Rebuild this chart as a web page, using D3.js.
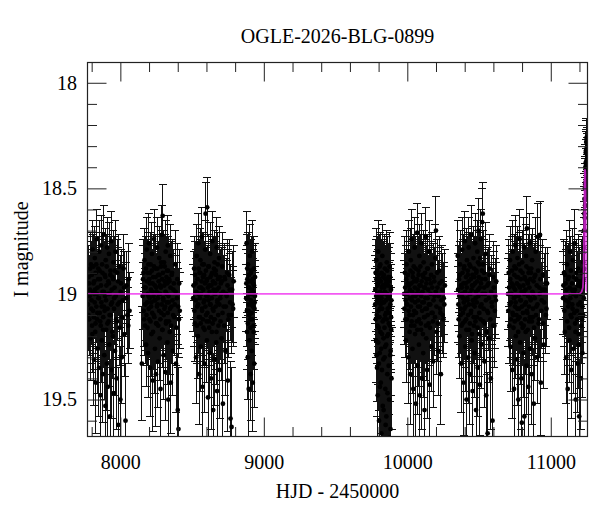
<!DOCTYPE html>
<html>
<head>
<meta charset="utf-8">
<script src="https://cdn.jsdelivr.net/npm/d3@7"></script>
<style>
  html, body { margin: 0; padding: 0; background: #fff; }
  svg { display: block; }
  svg text { font-family: "Liberation Serif", "Times New Roman", serif !important; font-size: 20px; }
</style>
</head>
<body>
<svg id="chart" width="600" height="512"></svg>
<script>
// ---------------- DATA (HJD-2450000, I mag, error) ----------------
const title = "OGLE-2026-BLG-0899";
const xLabel = "HJD - 2450000";
const yLabel = "I magnitude";
const xMajorTicks = [8000, 9000, 10000, 11000];
const yMajorTicks = [18, 18.5, 19, 19.5];

const season1 = [
[7774,19.05,.17],[7779,18.92,.15],[7783,19.12,.17],[7788,18.98,.16],[7792,19.21,.20],[7795,18.86,.15],
[7799,19.03,.16],[7803,19.15,.18],[7806,18.79,.14],[7810,19.08,.17],[7813,18.95,.16],[7816,19.31,.22],
[7819,19.00,.16],[7822,18.83,.15],[7825,19.18,.18],[7828,18.90,.16],[7830,19.42,.24],[7833,19.06,.17],
[7836,18.74,.14],[7838,19.12,.18],[7841,18.97,.16],[7843,19.26,.21],[7846,18.88,.15],[7848,19.02,.17],
[7851,19.35,.23],[7853,18.80,.15],[7856,19.09,.17],[7858,18.93,.16],[7861,19.48,.25],[7863,19.15,.18],
[7866,18.77,.14],[7868,19.04,.17],[7871,19.22,.20],[7873,18.86,.15],[7876,18.99,.16],[7878,19.38,.23],
[7881,19.11,.18],[7883,18.72,.14],[7886,19.06,.17],[7888,19.29,.21],[7891,18.91,.16],[7893,19.01,.16],
[7896,19.53,.26],[7898,18.84,.15],[7901,19.17,.18],[7903,18.96,.16],[7906,19.33,.22],[7908,18.78,.14],
[7911,19.07,.17],[7913,19.44,.24],[7916,18.94,.16],[7918,19.13,.18],[7921,18.81,.15],[7923,19.24,.20],
[7926,19.00,.16],[7928,19.58,.27],[7931,18.89,.16],[7934,19.10,.17],[7936,18.75,.14],[7939,19.36,.23],
[7942,19.04,.17],[7945,18.92,.16],[7948,19.20,.20],[7951,18.85,.15],[7954,19.47,.25],[7957,19.02,.16],
[7960,18.97,.16],[7963,19.27,.21],[7966,18.80,.15],[7970,19.12,.18],[7974,19.40,.24],[7978,18.90,.16],
[7982,19.05,.17],[7986,19.62,.27],[7990,18.87,.15],[7995,19.16,.18],[8000,19.50,.25],[8005,18.95,.16],
[8010,19.30,.22],[8016,19.03,.17],[8022,18.88,.16],[8029,19.19,.20],[8036,19.60,.27],[8043,18.96,.16],
[8050,19.10,.18],[8057,18.93,.17],[8064,19.08,.18],
[7777,19.10,.17],[7781,18.95,.16],[7786,19.01,.16],[7790,18.88,.15],[7797,19.07,.17],[7801,18.91,.16],
[7805,19.19,.18],[7808,18.99,.16],[7812,18.87,.15],[7815,19.11,.17],[7818,18.94,.16],[7821,19.04,.17],
[7824,18.98,.16],[7827,19.14,.18],[7832,18.86,.15],[7835,19.00,.16],[7840,19.09,.17],[7845,18.93,.16],
[7850,19.02,.16],[7855,18.89,.16],[7860,19.13,.18],[7865,18.96,.16],[7870,19.06,.17],[7875,18.90,.16],
[7880,19.17,.18],[7885,18.99,.16],[7890,19.08,.17],[7895,18.92,.16],[7900,19.03,.17],[7905,18.87,.15],
[7910,19.14,.18],[7915,19.00,.16],[7920,18.95,.16],[7925,19.10,.17],[7930,18.91,.16],[7935,19.05,.17],
[7940,18.98,.16],[7944,19.18,.20],[7950,18.93,.16],[7956,19.07,.17],[7962,18.89,.16],[7968,19.01,.17],
[7976,19.13,.18],[7984,18.94,.16],[7993,19.04,.17],[8002,18.99,.17],[8013,19.11,.18],[8026,18.97,.17],
[8040,19.02,.17],[8055,19.15,.18]
];
const season2 = [
[8150,19.33,.27],[8158,18.93,.16],[8163,19.08,.17],[8168,18.84,.15],[8172,19.15,.18],[8176,18.97,.16],
[8180,19.24,.20],[8184,18.79,.15],[8187,19.04,.17],[8190,18.90,.16],[8193,19.28,.21],[8196,19.01,.16],
[8199,18.76,.14],[8202,19.12,.18],[8205,18.95,.16],[8208,19.35,.23],[8211,18.86,.15],[8214,19.06,.17],
[8217,19.19,.20],[8220,18.81,.15],[8223,18.99,.16],[8226,19.41,.24],[8229,18.92,.16],[8232,19.10,.18],
[8235,18.74,.14],[8238,19.03,.17],[8241,19.26,.21],[8244,18.88,.16],[8248,19.38,.25],[8250,18.97,.16],
[8253,19.14,.18],[8256,18.78,.14],[8259,19.05,.17],[8262,19.32,.22],[8265,18.91,.16],[8268,19.00,.16],
[8271,18.83,.15],[8274,19.21,.20],[8277,18.96,.16],[8280,19.45,.25],[8283,18.87,.15],[8286,19.09,.17],
[8289,18.72,.14],[8292,19.17,.18],[8295,18.63,.15],[8298,19.02,.17],[8301,19.29,.21],[8304,18.85,.15],
[8307,19.07,.17],[8310,18.94,.16],[8313,19.37,.23],[8316,18.80,.15],[8319,19.13,.18],[8322,19.00,.16],
[8325,18.89,.16],[8328,19.23,.20],[8331,18.77,.14],[8334,19.50,.26],[8337,19.04,.17],[8340,18.93,.16],
[8344,19.18,.20],[8348,18.82,.15],[8352,19.42,.24],[8356,19.06,.17],[8360,18.90,.16],[8365,19.27,.21],
[8370,18.98,.16],[8376,19.11,.18],[8382,18.86,.16],[8388,19.33,.23],[8394,19.02,.17],[8400,19.55,.27],
[8405,19.64,.29],[8410,18.95,.16],[8414,19.08,.18],
[8155,19.01,.16],[8161,18.90,.16],[8166,19.12,.17],[8170,18.97,.16],[8174,19.05,.17],[8178,18.88,.15],
[8182,19.10,.17],[8186,18.94,.16],[8189,19.16,.18],[8192,19.00,.16],[8195,18.86,.15],[8198,19.07,.17],
[8201,18.93,.16],[8204,19.02,.16],[8207,18.90,.16],[8210,19.13,.18],[8213,18.98,.16],[8216,19.04,.17],
[8219,18.89,.16],[8222,19.09,.17],[8225,18.95,.16],[8228,19.18,.18],[8231,19.01,.16],[8234,18.87,.15],
[8237,19.11,.17],[8240,18.96,.16],[8243,19.03,.17],[8246,18.92,.16],[8249,19.14,.18],[8252,18.99,.16],
[8255,19.06,.17],[8258,18.88,.15],[8261,19.02,.16],[8264,19.15,.18],[8267,18.94,.16],[8270,19.08,.17],
[8273,18.91,.16],[8276,19.00,.16],[8279,19.12,.17],[8282,18.97,.16],[8285,18.85,.15],[8288,19.05,.17],
[8291,18.93,.16],[8294,19.17,.18],[8297,18.90,.16],[8300,19.03,.17],[8303,19.10,.17],[8306,18.96,.16],
[8309,18.87,.15],[8312,19.06,.17],[8315,18.99,.16],[8318,19.14,.18],[8321,18.92,.16],[8324,19.04,.17],
[8327,18.95,.16],[8330,19.09,.17],[8333,18.89,.16],[8336,19.01,.16],[8339,19.13,.18],[8342,18.94,.16],
[8346,19.07,.17],[8350,18.97,.16],[8354,19.15,.18],[8358,18.91,.16],[8363,19.03,.17],[8368,19.10,.18],
[8373,18.95,.16],[8379,19.05,.17],[8385,18.99,.17],[8391,19.16,.18],[8397,18.93,.17],[8403,19.06,.18],
[8408,19.12,.18]
];
const season3 = [
[8508,19.02,.16],[8514,18.88,.15],[8519,19.14,.18],[8524,18.95,.16],[8528,19.30,.22],[8532,18.82,.15],
[8536,19.06,.17],[8540,19.20,.20],[8543,18.76,.14],[8546,19.00,.16],[8549,19.38,.24],[8552,18.90,.16],
[8555,19.11,.18],[8558,18.84,.15],[8561,19.25,.21],[8564,18.97,.16],[8567,18.73,.14],[8570,19.08,.17],
[8573,19.44,.25],[8576,18.92,.16],[8579,19.16,.18],[8582,18.86,.15],[8585,19.03,.17],[8588,19.33,.23],
[8591,18.79,.14],[8594,18.62,.15],[8597,19.10,.17],[8600,18.94,.16],[8603,19.22,.20],[8605,18.59,.14],
[8608,19.01,.17],[8611,19.49,.26],[8614,18.87,.15],[8617,19.13,.18],[8620,18.96,.16],[8623,19.28,.21],
[8626,18.81,.15],[8629,19.05,.17],[8632,19.40,.24],[8635,18.91,.16],[8638,19.18,.20],[8641,18.75,.14],
[8644,19.07,.17],[8647,19.55,.27],[8650,18.98,.16],[8653,19.12,.18],[8656,18.85,.15],[8659,19.31,.22],
[8662,19.00,.16],[8665,18.89,.16],[8668,19.23,.20],[8671,18.78,.14],[8674,19.46,.25],[8677,19.04,.17],
[8680,18.93,.16],[8684,19.15,.18],[8688,18.83,.15],[8692,19.36,.23],[8696,19.02,.17],[8700,18.95,.16],
[8705,19.21,.20],[8710,18.87,.16],[8715,19.52,.26],[8720,19.06,.17],[8726,18.92,.16],[8732,19.27,.21],
[8738,19.00,.17],[8744,18.90,.16],[8750,19.41,.24],[8756,19.10,.18],[8762,18.98,.17],[8768,19.59,.27],
[8775,19.63,.28],[8782,19.05,.18],[8790,18.94,.17],
[8510,18.96,.16],[8516,19.08,.17],[8521,18.91,.16],[8526,19.03,.17],[8530,18.99,.16],[8534,19.15,.18],
[8538,18.93,.16],[8542,19.05,.17],[8545,18.88,.15],[8548,19.11,.17],[8551,18.97,.16],[8554,19.02,.16],
[8557,18.90,.16],[8560,19.14,.18],[8563,19.00,.16],[8566,18.94,.16],[8569,19.07,.17],[8572,18.86,.15],
[8575,19.12,.17],[8578,18.98,.16],[8581,19.04,.17],[8584,18.91,.16],[8587,19.17,.18],[8590,18.95,.16],
[8593,19.06,.17],[8596,18.89,.16],[8599,19.01,.16],[8602,19.13,.18],[8604,18.93,.16],[8607,19.09,.17],
[8610,18.97,.16],[8613,19.03,.17],[8616,18.87,.15],[8619,19.16,.18],[8622,18.99,.16],[8625,19.05,.17],
[8628,18.92,.16],[8631,19.11,.17],[8634,18.96,.16],[8637,19.02,.16],[8640,18.90,.16],[8643,19.14,.18],
[8646,18.94,.16],[8649,19.08,.17],[8652,18.88,.15],[8655,19.00,.16],[8658,19.12,.17],[8661,18.95,.16],
[8664,19.06,.17],[8667,18.91,.16],[8670,19.18,.18],[8673,18.98,.16],[8676,19.03,.17],[8679,18.86,.15],
[8682,19.10,.17],[8686,18.97,.16],[8690,19.05,.17],[8694,18.92,.16],[8698,19.13,.18],[8702,19.00,.16],
[8707,18.94,.16],[8712,19.09,.17],[8717,18.99,.17],[8723,19.15,.18],[8729,18.93,.16],[8735,19.06,.17],
[8741,19.01,.17],[8747,18.96,.17],[8753,19.12,.18],[8759,18.91,.17],[8765,19.04,.18],[8772,19.10,.18],
[8779,18.98,.18],[8786,19.07,.18]
];
const season4 = [
[8877,19.02,.16],[8880,18.76,.15],[8883,19.18,.18],[8885,18.93,.16],[8888,19.30,.20],[8890,18.86,.15],
[8893,19.08,.17],[8895,19.45,.23],[8898,18.97,.16],[8900,19.22,.19],[8903,18.82,.15],[8905,19.12,.17],
[8908,19.38,.22],[8910,18.90,.16],[8913,19.05,.17],[8915,19.27,.19],[8918,18.80,.15],[8920,19.00,.16],
[8923,19.42,.23],[8925,18.95,.16],[8928,19.15,.18],[8930,18.88,.15],[8933,19.33,.21],[8936,19.04,.17],
[8939,18.92,.16],
[8878,18.95,.16],[8882,19.08,.17],[8884,18.88,.16],[8887,19.02,.16],[8889,19.14,.17],[8892,18.97,.16],
[8894,19.05,.17],[8897,18.91,.16],[8899,19.10,.17],[8902,19.00,.16],[8904,18.94,.16],[8907,19.16,.18],
[8909,19.03,.16],[8912,18.89,.16],[8914,19.09,.17],[8917,18.98,.16],[8919,19.12,.17],[8922,18.93,.16],
[8924,19.06,.17],[8927,18.99,.16],[8929,19.18,.18],[8932,18.96,.16],[8935,19.07,.17],[8938,19.01,.17]
];
const season5 = [
[9776,19.05,.17],[9779,18.90,.16],[9782,19.22,.20],[9784,18.84,.15],[9787,19.10,.18],[9789,19.35,.23],
[9791,18.96,.16],[9794,19.48,.25],[9796,19.02,.17],[9798,18.80,.15],[9801,19.16,.18],[9803,19.60,.27],
[9805,18.93,.16],[9808,19.28,.21],[9810,19.07,.17],[9812,18.86,.15],[9815,19.42,.24],[9817,19.00,.16],
[9819,19.66,.28],[9822,18.97,.16],[9824,19.19,.20],[9826,18.82,.15],[9829,19.53,.26],[9831,19.04,.17],
[9833,19.31,.22],[9836,18.91,.16],[9838,19.12,.18],[9840,19.70,.29],[9843,18.88,.16],[9845,19.25,.21],
[9847,19.45,.25],[9850,18.95,.16],[9852,19.09,.17],[9854,19.58,.27],[9857,18.85,.15],[9859,19.20,.20],
[9861,19.38,.23],[9864,19.01,.17],[9866,19.75,.30],[9868,18.92,.16],[9871,19.14,.18],[9873,19.50,.26],
[9876,18.87,.16],[9878,19.06,.17],[9881,19.29,.22],[9883,19.64,.28],[9886,18.98,.17],[9888,19.17,.20],
[9890,19.40,.24],
[9777,18.98,.16],[9780,19.12,.18],[9783,19.01,.17],[9785,18.93,.16],[9786,19.29,.22],[9788,19.04,.17],
[9790,18.89,.16],[9792,19.15,.18],[9793,19.00,.17],[9795,18.95,.16],[9797,19.23,.20],[9799,19.08,.17],
[9800,18.91,.16],[9802,19.33,.22],[9804,19.03,.17],[9806,19.11,.18],[9807,18.87,.15],[9809,19.44,.24],
[9811,18.99,.16],[9813,19.18,.20],[9814,19.05,.17],[9816,18.94,.16],[9818,19.26,.21],[9820,19.02,.17],
[9821,18.90,.16],[9823,19.36,.23],[9825,19.07,.17],[9827,18.96,.16],[9828,19.13,.18],[9830,19.00,.17],
[9832,18.92,.16],[9834,19.21,.20],[9835,19.55,.27],[9837,19.04,.17],[9839,18.97,.16],[9841,19.16,.18],
[9842,19.30,.22],[9844,18.99,.16],[9846,19.10,.18],[9848,18.93,.16],[9849,19.62,.28],[9851,19.03,.17],
[9853,19.24,.21],[9855,18.95,.16],[9856,19.12,.18],[9858,19.00,.17],[9860,18.89,.16],[9862,19.47,.25],
[9863,19.07,.17],[9865,18.96,.16],[9867,19.19,.20],[9869,19.02,.17],[9870,19.34,.23],[9872,18.94,.16],
[9874,19.09,.17],[9875,19.68,.29],[9877,19.01,.17],[9879,19.15,.18],[9880,18.92,.16],[9882,19.05,.17],
[9884,19.27,.21],[9885,18.97,.16],[9887,19.11,.18],[9889,19.03,.17]
];
const season6 = [
[9978,19.00,.16],[9983,18.90,.17],[9987,19.12,.18],[9991,19.22,.20],[9995,18.86,.16],[9999,19.05,.17],
[10003,18.95,.16],[10007,19.30,.22],[10011,18.80,.15],[10015,19.10,.18],[10018,18.98,.16],[10021,19.38,.24],
[10024,18.84,.15],[10027,19.15,.18],[10030,18.74,.14],[10033,19.03,.17],[10036,19.26,.21],[10039,18.92,.16],
[10042,19.45,.25],[10045,18.87,.15],[10048,19.08,.17],[10051,18.78,.14],[10054,19.19,.20],[10057,19.01,.16],
[10060,19.52,.26],[10063,18.94,.16],[10066,19.13,.18],[10069,18.71,.14],[10072,19.34,.23],[10075,19.06,.17],
[10078,18.89,.16],[10081,19.24,.20],[10084,18.82,.15],[10087,19.48,.25],[10090,19.00,.16],[10093,18.96,.16],
[10096,19.17,.20],[10099,18.76,.14],[10102,19.40,.24],[10105,19.04,.17],[10108,18.91,.16],[10111,19.28,.21],
[10114,18.85,.15],[10117,19.11,.18],[10120,19.55,.27],[10123,18.97,.16],[10126,19.07,.17],[10129,18.73,.14],
[10132,19.21,.20],[10135,18.93,.16],[10138,19.36,.23],[10141,19.02,.17],[10144,18.88,.16],[10148,19.14,.18],
[10152,18.80,.15],[10156,19.43,.25],[10160,19.05,.17],[10164,18.95,.16],[10168,19.25,.21],[10172,18.86,.15],
[10176,19.09,.18],[10180,19.32,.22],[10185,18.92,.16],[10190,19.01,.17],[10195,18.83,.16],[10200,18.70,.16],
[10205,19.18,.20],[10210,18.97,.17],[10216,19.27,.21],[10222,18.89,.16],[10228,19.07,.18],[10234,19.38,.24],
[10240,18.94,.17],[10247,19.10,.18],[10254,19.02,.17],[10262,18.96,.17],
[9980,19.07,.17],[9985,18.97,.16],[9989,19.03,.17],[9993,18.93,.16],[9997,19.12,.18],[10001,19.00,.16],
[10005,18.91,.16],[10009,19.08,.17],[10013,18.96,.16],[10016,19.18,.18],[10019,19.02,.16],[10022,18.89,.16],
[10025,19.06,.17],[10028,18.95,.16],[10031,19.13,.18],[10034,18.99,.16],[10037,18.90,.16],[10040,19.10,.17],
[10043,19.01,.16],[10046,18.94,.16],[10049,19.15,.18],[10052,18.97,.16],[10055,19.04,.17],[10058,18.88,.15],
[10061,19.09,.17],[10064,19.00,.16],[10067,18.93,.16],[10070,19.17,.18],[10073,18.98,.16],[10076,19.03,.17],
[10079,18.91,.16],[10082,19.12,.17],[10085,18.96,.16],[10088,19.06,.17],[10091,18.87,.15],[10094,19.14,.18],
[10097,19.01,.16],[10100,18.94,.16],[10103,19.08,.17],[10106,18.99,.16],[10109,19.19,.20],[10112,18.92,.16],
[10115,19.04,.17],[10118,18.97,.16],[10121,19.11,.17],[10124,18.90,.16],[10127,19.02,.16],[10130,19.15,.18],
[10133,18.95,.16],[10136,19.07,.17],[10139,18.88,.15],[10142,19.10,.17],[10146,18.98,.16],[10150,19.05,.17],
[10154,18.93,.16],[10158,19.16,.18],[10162,19.00,.16],[10166,18.91,.16],[10170,19.09,.17],[10174,18.97,.16],
[10178,19.13,.18],[10183,19.03,.17],[10188,18.94,.16],[10193,19.11,.18],[10198,18.99,.17],[10203,19.06,.17],
[10208,18.90,.16],[10213,19.14,.18],[10219,19.01,.17],[10225,18.95,.17],[10231,19.09,.18],[10237,19.03,.17],
[10244,18.98,.17],[10251,19.12,.18],[10258,19.05,.18]
];
const season7 = [
[10352,18.82,.17],[10356,19.05,.18],[10360,18.93,.16],[10364,19.20,.20],[10368,18.86,.16],[10372,19.10,.18],
[10376,19.33,.23],[10380,18.97,.16],[10383,18.79,.15],[10386,19.14,.18],[10389,19.02,.17],[10392,19.42,.25],
[10395,18.88,.16],[10398,19.07,.17],[10401,18.75,.14],[10404,19.25,.21],[10407,18.95,.16],[10410,19.12,.18],
[10413,19.50,.26],[10416,18.84,.15],[10419,19.03,.17],[10422,18.91,.16],[10425,19.30,.22],[10428,18.78,.14],
[10431,19.17,.20],[10434,19.00,.16],[10437,19.38,.24],[10440,18.87,.15],[10443,19.09,.17],[10446,18.72,.14],
[10449,19.22,.20],[10452,18.96,.16],[10455,19.46,.25],[10458,19.05,.17],[10461,18.83,.15],[10464,19.15,.18],
[10467,18.92,.16],[10470,19.28,.21],[10473,18.76,.14],[10476,19.02,.17],[10479,19.55,.27],[10482,18.89,.16],
[10485,19.11,.18],[10488,18.80,.15],[10491,19.35,.23],[10494,18.98,.16],[10497,18.70,.15],[10500,19.19,.20],
[10503,18.86,.15],[10506,19.43,.24],[10509,19.06,.17],[10512,18.74,.14],[10515,19.24,.21],[10518,18.93,.16],
[10522,18.66,.16],[10526,18.62,.15],[10530,19.13,.18],[10534,18.90,.16],[10538,19.32,.22],[10542,19.00,.17],
[10546,18.81,.15],[10550,19.48,.26],[10555,19.08,.18],[10560,19.66,.29],[10565,18.95,.17],[10570,19.21,.21],
[10576,18.88,.16],[10582,19.40,.24],[10588,19.04,.18],[10594,19.60,.28],[10600,18.92,.17],[10607,19.15,.20],
[10614,19.01,.18],[10620,18.94,.17],
[10354,18.98,.17],[10358,19.12,.18],[10362,19.01,.17],[10366,18.91,.16],[10370,19.07,.17],[10374,18.96,.16],
[10378,19.15,.18],[10382,19.00,.16],[10385,18.90,.16],[10388,19.09,.17],[10391,18.95,.16],[10394,19.04,.17],
[10397,18.87,.15],[10400,19.13,.18],[10403,18.99,.16],[10406,19.06,.17],[10409,18.92,.16],[10412,19.17,.18],
[10415,18.97,.16],[10418,19.02,.16],[10421,18.89,.16],[10424,19.10,.17],[10427,18.94,.16],[10430,19.05,.17],
[10433,18.86,.15],[10436,19.14,.18],[10439,19.00,.16],[10442,18.93,.16],[10445,19.08,.17],[10448,18.98,.16],
[10451,19.19,.20],[10454,18.91,.16],[10457,19.03,.17],[10460,18.96,.16],[10463,19.11,.17],[10466,18.88,.15],
[10469,19.06,.17],[10472,18.95,.16],[10475,19.13,.18],[10478,18.99,.16],[10481,18.90,.16],[10484,19.04,.17],
[10487,18.94,.16],[10490,19.16,.18],[10493,18.85,.15],[10496,19.01,.16],[10499,18.92,.16],[10502,19.09,.17],
[10505,18.97,.16],[10508,18.83,.15],[10511,19.12,.18],[10514,18.95,.16],[10517,19.05,.17],[10520,18.89,.16],
[10524,19.00,.16],[10528,18.86,.16],[10532,19.07,.17],[10536,18.97,.16],[10540,19.14,.18],[10544,18.93,.16],
[10548,19.03,.17],[10553,19.18,.20],[10558,18.96,.17],[10563,19.09,.18],[10568,19.02,.17],[10573,18.91,.16],
[10579,19.12,.18],[10585,18.99,.17],[10591,19.06,.18],[10597,19.15,.20],[10603,18.97,.17],[10610,19.08,.18],
[10617,19.03,.18]
];
const season8 = [
[10702,19.00,.17],[10707,18.90,.16],[10712,19.15,.18],[10716,18.84,.16],[10720,19.25,.21],[10724,19.04,.17],
[10728,18.95,.16],[10732,19.36,.23],[10735,18.80,.15],[10738,19.10,.18],[10741,18.97,.16],[10744,19.45,.25],
[10747,18.87,.15],[10750,19.06,.17],[10753,18.77,.14],[10756,19.20,.20],[10759,19.01,.16],[10762,18.92,.16],
[10765,19.31,.22],[10768,18.83,.15],[10771,19.12,.18],[10774,19.50,.26],[10777,18.96,.16],[10780,19.07,.17],
[10783,18.74,.14],[10786,19.23,.20],[10789,18.89,.16],[10792,19.03,.17],[10795,19.40,.24],[10798,19.61,.28],
[10801,18.85,.15],[10804,19.16,.18],[10807,18.99,.16],[10810,19.28,.21],[10813,18.78,.14],[10816,19.58,.27],
[10819,19.05,.17],[10822,18.93,.16],[10825,19.18,.20],[10828,18.82,.15],[10831,19.34,.23],[10834,18.69,.15],
[10837,19.09,.18],[10840,18.95,.16],[10843,19.44,.25],[10846,18.88,.16],[10849,19.13,.18],[10852,18.76,.14],
[10855,19.26,.21],[10858,19.02,.17],[10862,18.90,.16],[10866,19.38,.24],[10870,18.84,.15],[10874,19.11,.18],
[10878,19.00,.17],[10882,19.52,.26],[10886,18.92,.16],[10890,19.21,.20],[10895,18.80,.16],[10900,19.06,.17],
[10905,19.30,.22],[10910,18.73,.16],[10915,19.14,.18],[10920,18.97,.17],[10925,18.72,.16],[10931,19.42,.25],
[10937,19.03,.18],[10944,18.91,.17],[10951,19.24,.21],[10958,18.98,.17],[10966,19.10,.18],[10974,18.95,.17],
[10704,19.08,.17],[10709,18.97,.16],[10714,19.05,.17],[10718,18.93,.16],[10722,19.12,.18],[10726,19.00,.16],
[10730,18.89,.16],[10734,19.09,.17],[10737,18.96,.16],[10740,19.16,.18],[10743,19.02,.16],[10746,18.91,.16],
[10749,19.13,.18],[10752,18.98,.16],[10755,19.04,.17],[10758,18.88,.15],[10761,19.10,.17],[10764,18.95,.16],
[10767,19.07,.17],[10770,18.92,.16],[10773,19.18,.20],[10776,19.01,.16],[10779,18.86,.15],[10782,19.11,.17],
[10785,18.97,.16],[10788,19.03,.17],[10791,18.93,.16],[10794,19.14,.18],[10797,18.99,.16],[10800,19.06,.17],
[10803,18.90,.16],[10806,19.09,.17],[10809,18.96,.16],[10812,19.15,.18],[10815,19.00,.16],[10818,18.92,.16],
[10821,19.12,.18],[10824,18.98,.16],[10827,19.04,.17],[10830,18.87,.15],[10833,19.08,.17],[10836,18.94,.16],
[10839,19.17,.18],[10842,19.01,.16],[10845,18.90,.16],[10848,19.06,.17],[10851,18.97,.16],[10854,19.11,.17],
[10857,18.93,.16],[10860,19.03,.17],[10864,18.88,.16],[10868,19.13,.18],[10872,18.99,.16],[10876,19.07,.17],
[10880,18.94,.16],[10884,19.16,.18],[10888,19.02,.17],[10892,18.91,.16],[10897,19.10,.18],[10902,18.96,.16],
[10907,19.05,.17],[10912,18.89,.16],[10918,19.12,.18],[10923,19.00,.17],[10928,18.93,.16],[10934,19.08,.18],
[10940,18.98,.17],[10947,19.14,.18],[10954,19.04,.17],[10962,18.95,.17],[10970,19.07,.18]
];
const season9 = [
[11086,19.02,.17],[11092,18.90,.16],[11098,19.18,.20],[11103,18.95,.16],[11108,19.30,.22],[11113,18.86,.16],
[11118,19.45,.25],[11122,19.06,.17],[11126,18.92,.16],[11130,19.22,.20],[11134,18.80,.15],[11138,19.10,.18],
[11142,19.36,.23],[11146,18.98,.16],[11150,19.05,.17],[11154,18.84,.15],[11158,19.26,.21],[11162,19.00,.16],
[11166,18.76,.16],[11170,19.14,.18],[11174,19.50,.26],[11178,18.93,.16],[11182,19.08,.17],[11186,19.33,.23],
[11190,18.88,.16],[11194,19.19,.20],[11198,19.58,.27],[11202,18.96,.16],[11206,19.04,.17],[11210,19.40,.24],
[11214,18.90,.16],[11218,19.12,.18],[11221,19.28,.21],[11224,18.95,.16],[11227,18.85,.15],[11230,19.02,.16],
[11232,18.78,.14],[11234,18.62,.13],[11236,18.70,.14],[11238,18.50,.12],[11239,18.58,.13],[11241,18.40,.11],
[11242,18.47,.12],[11244,18.33,.10],[11245,18.42,.11],[11247,18.28,.10],[11248,18.37,.10],[11250,18.31,.10],
[11251,18.45,.11],[11253,18.29,.09],[11254,18.36,.10],
[11088,18.96,.16],[11095,19.08,.17],[11100,18.91,.16],[11105,19.03,.17],[11110,18.98,.16],[11115,19.13,.18],
[11120,18.93,.16],[11124,19.04,.17],[11128,19.16,.18],[11132,18.97,.16],[11136,19.02,.17],[11140,18.89,.16],
[11144,19.11,.18],[11148,18.95,.16],[11152,19.07,.17],[11156,19.00,.16],[11160,18.92,.16],[11164,19.09,.17],
[11168,18.98,.16],[11172,19.18,.20],[11176,19.01,.16],[11180,18.90,.16],[11184,19.12,.18],[11188,18.96,.16],
[11192,19.05,.17],[11196,19.24,.21],[11200,18.94,.16],[11204,19.10,.18],[11208,19.00,.16],[11212,19.15,.18],
[11216,18.97,.16],[11220,19.06,.17],[11223,18.89,.16],[11226,19.10,.18],[11229,18.93,.16],[11231,18.70,.14],
[11233,18.88,.15],[11235,18.55,.12],[11237,18.64,.13],[11240,18.48,.12],[11243,18.38,.11],[11246,18.32,.10],
[11249,18.26,.09],[11252,18.34,.10],[11255,18.30,.10]
];

// microlensing model curve
const modelT = [7771, 11200, 11215, 11224, 11229, 11232, 11235, 11238, 11241, 11243, 11245, 11247, 11256];
const modelM = [19.00, 19.00, 18.99, 18.97, 18.90, 18.70, 18.48, 18.41, 18.42, 18.55, 18.80, 18.98, 18.99];

// ---------------- CHART ----------------
const FONT = '"Liberation Serif", "Times New Roman", serif';
const svg = d3.select("#chart").attr("font-family", FONT);
const L = 87.5, R = 587.5, T = 62.5, B = 436.5;

const x = d3.scaleLinear().domain([7771, 11256]).range([L, R]);
const y = d3.scaleLinear().domain([17.904, 19.675]).range([T, B]);

const allData = [].concat(season1, season2, season3, season4, season5, season6, season7, season8, season9);

svg.append("defs").append("clipPath").attr("id", "clip")
  .append("rect").attr("x", L).attr("y", T).attr("width", R - L).attr("height", B - T);

const plot = svg.append("g").attr("clip-path", "url(#clip)");

// error bars
const capW = 4;
const eb = plot.append("g").attr("stroke", "#111").attr("stroke-width", 1).attr("fill", "none")
  .attr("shape-rendering", "crispEdges");
eb.selectAll("path").data(allData).join("path")
  .attr("d", d => {
    const xx = x(d[0]), y1 = y(d[1] - d[2]), y2 = y(d[1] + d[2]);
    return `M${xx},${y1}V${y2}M${xx - capW},${y1}H${xx + capW}M${xx - capW},${y2}H${xx + capW}`;
  });

// points
plot.append("g").selectAll("circle").data(allData).join("circle")
  .attr("cx", d => x(d[0])).attr("cy", d => y(d[1])).attr("r", 2.4).attr("fill", "#000");

// model
const model = modelT.map((t, i) => [t, modelM[i]]);
plot.append("path").datum(model)
  .attr("d", d3.line().x(d => x(d[0])).y(d => y(d[1])))
  .attr("fill", "none").attr("stroke", "#ee22ee").attr("stroke-opacity", 0.75).attr("stroke-width", 1.8);

// axes
const fs = 20;
function styleAxis(g) {
  g.attr("font-family", FONT).attr("font-size", fs);
  g.select(".domain").remove();
  g.selectAll(".tick line").attr("stroke", "#222").attr("stroke-width", 1);
  g.selectAll(".tick text").attr("fill", "#000");
}
const xMinor = d3.range(7800, 11256, 200).filter(v => !xMajorTicks.includes(v));
const yMinor = d3.range(18.0, 19.675, 0.1).map(v => +v.toFixed(1)).filter(v => !yMajorTicks.includes(v));

svg.append("g").attr("transform", `translate(0,${B})`)
  .call(d3.axisBottom(x).tickValues(xMajorTicks).tickFormat(d3.format("d")).tickSize(-19).tickPadding(18.5)).call(styleAxis);
svg.append("g").attr("transform", `translate(0,${B})`)
  .call(d3.axisBottom(x).tickValues(xMinor).tickFormat("").tickSize(-9.5)).call(styleAxis);
svg.append("g").attr("transform", `translate(0,${T})`)
  .call(d3.axisTop(x).tickValues(xMajorTicks).tickFormat("").tickSize(-19)).call(styleAxis);
svg.append("g").attr("transform", `translate(0,${T})`)
  .call(d3.axisTop(x).tickValues(xMinor).tickFormat("").tickSize(-9.5)).call(styleAxis);

svg.append("g").attr("transform", `translate(${L},0)`)
  .call(d3.axisLeft(y).tickValues(yMajorTicks).tickFormat(d => String(d)).tickSize(-19).tickPadding(10.5)).call(styleAxis);
svg.append("g").attr("transform", `translate(${L},0)`)
  .call(d3.axisLeft(y).tickValues(yMinor).tickFormat("").tickSize(-9.5)).call(styleAxis);
svg.append("g").attr("transform", `translate(${R},0)`)
  .call(d3.axisRight(y).tickValues(yMajorTicks).tickFormat("").tickSize(-19)).call(styleAxis);
svg.append("g").attr("transform", `translate(${R},0)`)
  .call(d3.axisRight(y).tickValues(yMinor).tickFormat("").tickSize(-9.5)).call(styleAxis);

// frame
svg.append("rect").attr("x", L).attr("y", T).attr("width", R - L).attr("height", B - T)
  .attr("fill", "none").attr("stroke", "#222").attr("stroke-width", 1.2);

// titles
svg.append("text").attr("x", (L + R) / 2).attr("y", 43).attr("text-anchor", "middle").attr("fill", "#000").text(title);
svg.append("text").attr("x", (L + R) / 2).attr("y", 498).attr("text-anchor", "middle").attr("fill", "#000").text(xLabel);
svg.append("text").attr("transform", `translate(28,${(T + B) / 2}) rotate(-90)`).attr("text-anchor", "middle")
  .attr("fill", "#000").text(yLabel);
</script>
</body>
</html>
